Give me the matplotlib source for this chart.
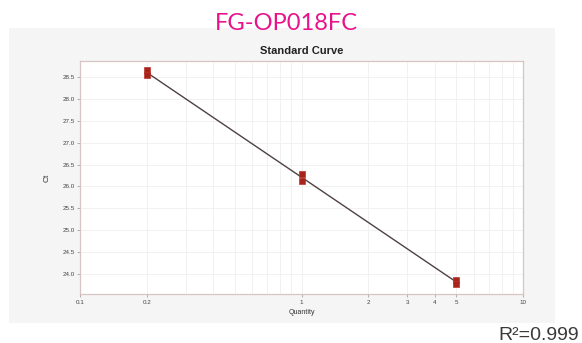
import numpy as np
import matplotlib
matplotlib.use("Agg")
import matplotlib.pyplot as plt
from matplotlib.patches import Rectangle

# replicate Ct values
quantity = [0.2, 0.2, 1, 1, 5, 5]
ct = [28.66, 28.56, 26.29, 26.13, 23.86, 23.77]
xticks = [0.1, 0.2, 1, 2, 3, 4, 5, 10]
xtick_labels = ["0.1", "0.2", "1", "2", "3", "4", "5", "10"]
yticks = [24.0, 24.5, 25.0, 25.5, 26.0, 26.5, 27.0, 27.5, 28.0, 28.5]
r2_text = "R\u00b2=0.999"

plt.rcParams['font.family'] = ['Liberation Sans', 'DejaVu Sans']

fig = plt.figure(figsize=(5.82, 3.43), dpi=100)
W, H = 582, 343

# light grey panel behind the plot (screenshot look)
bg = fig.add_axes([0, 0, 1, 1], zorder=-1)
bg.set_xlim(0, W)
bg.set_ylim(H, 0)
bg.axis('off')
bg.add_patch(Rectangle((9, 28), 555 - 9, 323 - 28, facecolor='#f5f5f5', edgecolor='none'))

ax = fig.add_axes([80 / W, 1 - 294 / H, (523 - 80) / W, (294 - 61) / H], zorder=1)
ax.set_facecolor('white')

# fitted line through log10(quantity)
lx = np.log10(quantity)
slope, icpt = np.polyfit(lx, ct, 1)
xl = np.array([min(quantity), max(quantity)])
ax.plot(xl, slope * np.log10(xl) + icpt, color='#4e4242', lw=1.0, zorder=2)
ax.plot(quantity, ct, 's', ms=5, color='#a8231c', mec='#b8352c', mew=0.5, zorder=3)

ax.set_xscale('log')
ax.set_xlim(0.1, 10)
ax.set_ylim(23.54, 28.87)
ax.set_xticks(xticks)
ax.set_xticklabels(xtick_labels)
ax.minorticks_off()
ax.set_xticks([0.3, 0.4, 0.5, 0.6, 0.7, 0.8, 0.9, 6, 7, 8, 9], minor=True)
ax.tick_params(axis='x', which='minor', length=0)
ax.set_yticks(yticks)
ax.set_yticklabels([f"{v:.1f}" for v in yticks])
ax.tick_params(axis='both', which='major', labelsize=4.5, length=2, width=0.5,
               colors='#999090', labelcolor='#444444', pad=2)
ax.grid(True, which='both', color='#efefef', lw=0.6)
ax.set_axisbelow(True)
for s in ax.spines.values():
    s.set_color('#d8c4c4')
    s.set_linewidth(0.9)

ax.set_title("Standard Curve", fontsize=8, fontweight='bold', color='#222222', pad=5)
ax.set_xlabel("Quantity", fontsize=5, color='#333333', labelpad=3)
ax.set_ylabel("Ct", fontsize=6, color='#333333', labelpad=8)

fig.text(286 / W, 1 - 24 / H, "FG-OP018FC", ha='center', va='center',
         fontsize=17, color='#e8128c', family=['Lato', 'DejaVu Sans'])
fig.text(579 / W, 1 - 335 / H, r2_text, ha='right', va='center',
         fontsize=14, color='#3a3a3a')

fig.savefig("out.png", dpi=100)
